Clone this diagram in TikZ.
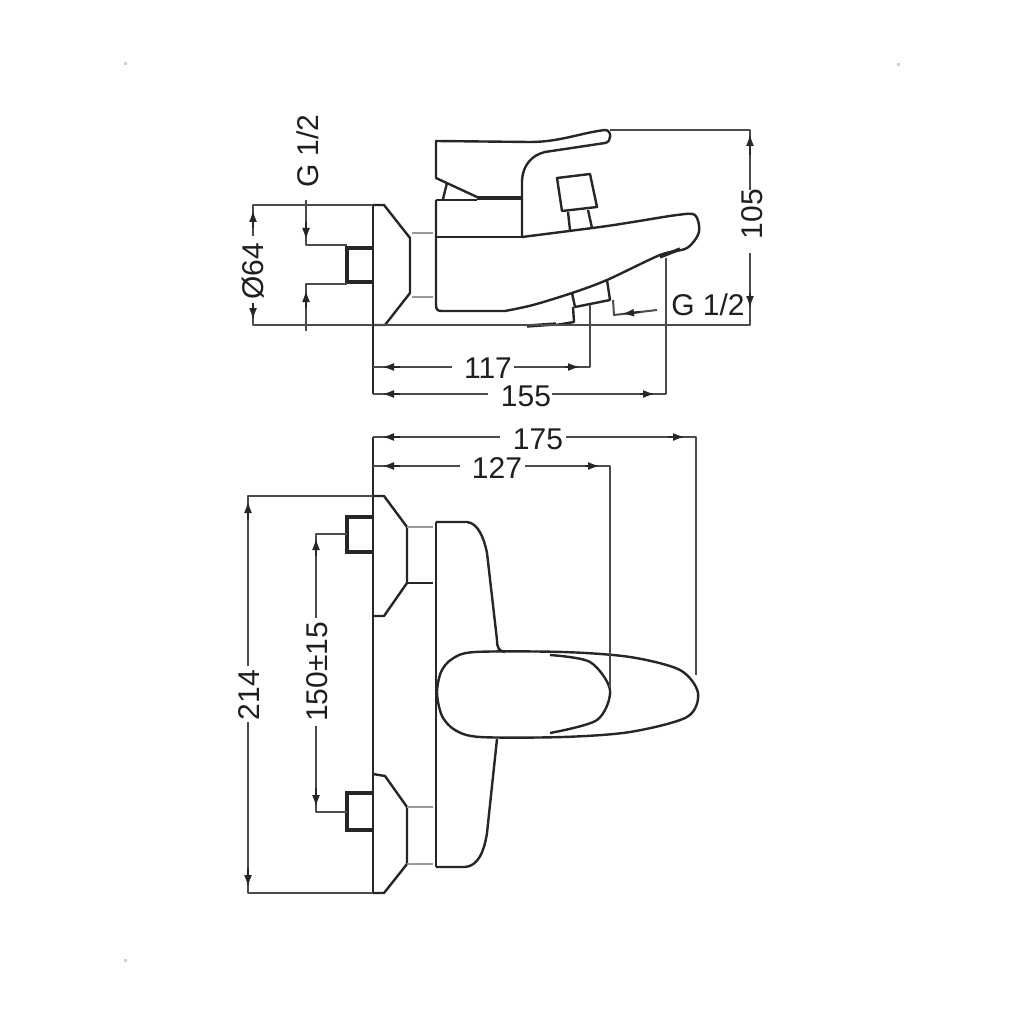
\documentclass[tikz,border=0pt]{standalone}
\usepackage{fontspec}
\setmainfont{Liberation Sans}
\usetikzlibrary{arrows.meta}
\tikzset{
  part/.style={line width=2.4pt, black!85, line join=round},
  heavy/.style={line width=3.4pt, black!85},
  soft/.style={line width=2.4pt, black!40},
  dimline/.style={line width=2pt, black!70, line join=round},
  tipline/.style={line width=2pt, black!85, -{Latex[length=12pt,width=8pt]}},
  dimtext/.style={font=\fontsize{30}{32}\selectfont, text=black!88, inner sep=0pt},
  speck/.style={fill=black!18, draw=none}
}
\begin{document}
\begin{tikzpicture}[x=1pt,y=-1pt]
  \useasboundingbox (0,0) rectangle (1024,1024);
  \fill[white] (0,0) rectangle (1024,1024);

  % --- 1. Corner marks ---
  \fill[speck] (123.5,62.5) rectangle (126.5,65.5);
  \fill[speck] (896.5,63) rectangle (899.5,66);
  \fill[speck] (123.5,959) rectangle (126.5,962);

  % --- 2. Side view ---
  % Wall plate and cone
  \draw[part] (373,205) -- (384,205) -- (410,238) -- (410,293) -- (385,325) -- (373,325);
  \draw[part] (373,205) -- (373,394);
  % Collar
  \draw[soft] (412,233) -- (433,233) (412,297) -- (433,297);
  % Nipple
  \draw[heavy] (373,248) -- (347,248) -- (347,282) -- (373,282);
  % Body and spout
  \draw[part] (436,200) -- (436,305) .. controls (436,310) and (438,311) .. (442,311) -- (505,311)
    plot[smooth] coordinates {(505,311) (533,305) (572,293) (607,280) (660,255) (687,248) (699,232) (695,215) (677,215) (633,222) (600,227) (522,237)};
  \draw[part] (436,237) -- (522,237);
  \draw[part] (436,200) -- (477,200);
  \draw[heavy] (477,198) -- (521,198);
  % Lever
  \draw[part] (522,237) -- (522,180) .. controls (523,165) and (532,155) .. (545,152)
    -- (605,143) .. controls (612,142) and (612,130) .. (605,130)
    .. controls (580,133) and (560,142) .. (530,142) -- (436,141) -- (436,178) -- (477,197);
  \draw[part] (447,183) -- (443,199);
  % Diverter knob
  \draw[part] (557,178) -- (590,174) -- (597,207) -- (562,211) -- cycle;
  \draw[part] (568,212) -- (570,230) (588,210) -- (592,228);
  % Outlet
  \draw[part] (572,293) -- (575,307) -- (610,300) -- (607,280);
  \draw[part] (573,307) -- (574,322) -- (556,325);
  \draw[heavy] (556,324) -- (527,326);
  \draw[heavy] (660,257) -- (680,249);

  % --- 3. Side view dimensions ---
  \draw[dimline] (374,325) -- (750,325) -- (750,253);
  \draw[dimline] (610,130) -- (750,130) -- (750,190);
  \draw[tipline] (750,155) -- (750,134);
  \draw[tipline] (750,293) -- (750,308);
  \node[dimtext, rotate=90] (dimheight) at (752,214) {105};

  \draw[dimline] (373,205) -- (253,205) -- (253,236);
  \draw[dimline] (373,325) -- (253,325) -- (253,304);
  \draw[tipline] (253,228) -- (253,210);
  \draw[tipline] (253,303) -- (253,320);
  \node[dimtext, rotate=90] (dimplate) at (253,271) {Ø64};

  \draw[dimline] (306,200) -- (306,245) -- (347,245);
  \draw[dimline] (306,331) -- (306,284) -- (347,284);
  \draw[tipline] (306,222) -- (306,240);
  \draw[tipline] (306,308) -- (306,290);
  \node[dimtext, rotate=90] (dimthreadA) at (308,151) {G 1/2};

  \draw[dimline] (373,367) -- (452,367);
  \draw[dimline] (514,367) -- (590,367) -- (590,305);
  \draw[tipline] (400,367) -- (382,367);
  \draw[tipline] (565,367) -- (580,367);
  \node[dimtext] (dimoutlet) at (488,368) {117};

  \draw[dimline] (373,394) -- (488,394);
  \draw[dimline] (552,394) -- (666,394) -- (666,258);
  \draw[tipline] (400,394) -- (382,394);
  \draw[tipline] (640,394) -- (655,394);
  \node[dimtext] (dimspout) at (526,396) {155};

  \draw[dimline] (613,300) -- (614,315) -- (657,310);
  \draw[tipline] (640,312) -- (622,314);
  \node[dimtext] (dimthreadB) at (708,305) {G 1/2};

  % --- 4. Top view ---
  % Wall plate and cones
  \draw[part] (373,437) -- (373,893);
  \draw[part] (373,496) -- (384,496) -- (407,527) -- (407,583) -- (384,616) -- (373,616);
  \draw[part] (373,774) -- (385,776) -- (407,807) -- (407,864) -- (384,893) -- (373,893);
  % Collars
  \draw[soft] (407,527) -- (433,527) (407,807) -- (433,807) (407,864) -- (433,864);
  \draw[part] (407,583) -- (433,583);
  % Nipples
  \draw[heavy] (373,517) -- (347,517) -- (347,552) -- (373,552);
  \draw[heavy] (373,793) -- (347,793) -- (347,830) -- (373,830);
  % Body
  \draw[part] (436,522) -- (436,867);
  \draw[part] (436,522) -- (467,522) .. controls (478,523) and (484,538) .. (487,553) -- (497,640) .. controls (497,648) and (499,651) .. (505,652);
  \draw[part] (497,739) -- (487,833) .. controls (484,852) and (478,866) .. (465,867) -- (436,867);
  % Handle
  \draw[part] plot[smooth cycle] coordinates {(437,693) (441,672) (452,659) (475,652) (563,652) (630,657) (680,670) (698,693) (687,717) (630,732) (563,737) (480,737) (455,730) (442,716)};
  \draw[part] plot[smooth] coordinates {(550,655) (590,662) (610,690) (597,720) (550,733)};

  % --- 5. Top view dimensions ---
  \draw[dimline] (373,437) -- (500,437);
  \draw[dimline] (566,437) -- (696,437) -- (696,675);
  \draw[tipline] (400,437) -- (382,437);
  \draw[tipline] (668,437) -- (685,437);
  \node[dimtext] (dimlength) at (538,439) {175};

  \draw[dimline] (373,466) -- (460,466);
  \draw[dimline] (525,466) -- (610,466) -- (610,688);
  \draw[tipline] (400,466) -- (382,466);
  \draw[tipline] (585,466) -- (600,466);
  \node[dimtext] (dimlever) at (497,468) {127};

  \draw[dimline] (373,496) -- (248,496) -- (248,666);
  \draw[dimline] (248,722) -- (248,893) -- (373,893);
  \draw[tipline] (248,520) -- (248,501);
  \draw[tipline] (248,868) -- (248,887);
  \node[dimtext, rotate=90] (dimwidth) at (249,695) {214};

  \draw[dimline] (347,534) -- (316,534) -- (316,618);
  \draw[dimline] (316,726) -- (316,812) -- (347,812);
  \draw[tipline] (316,556) -- (316,538);
  \draw[tipline] (316,788) -- (316,807);
  \node[dimtext, rotate=90] (dimcentres) at (317,672) {150±15};
\end{tikzpicture}
\end{document}
